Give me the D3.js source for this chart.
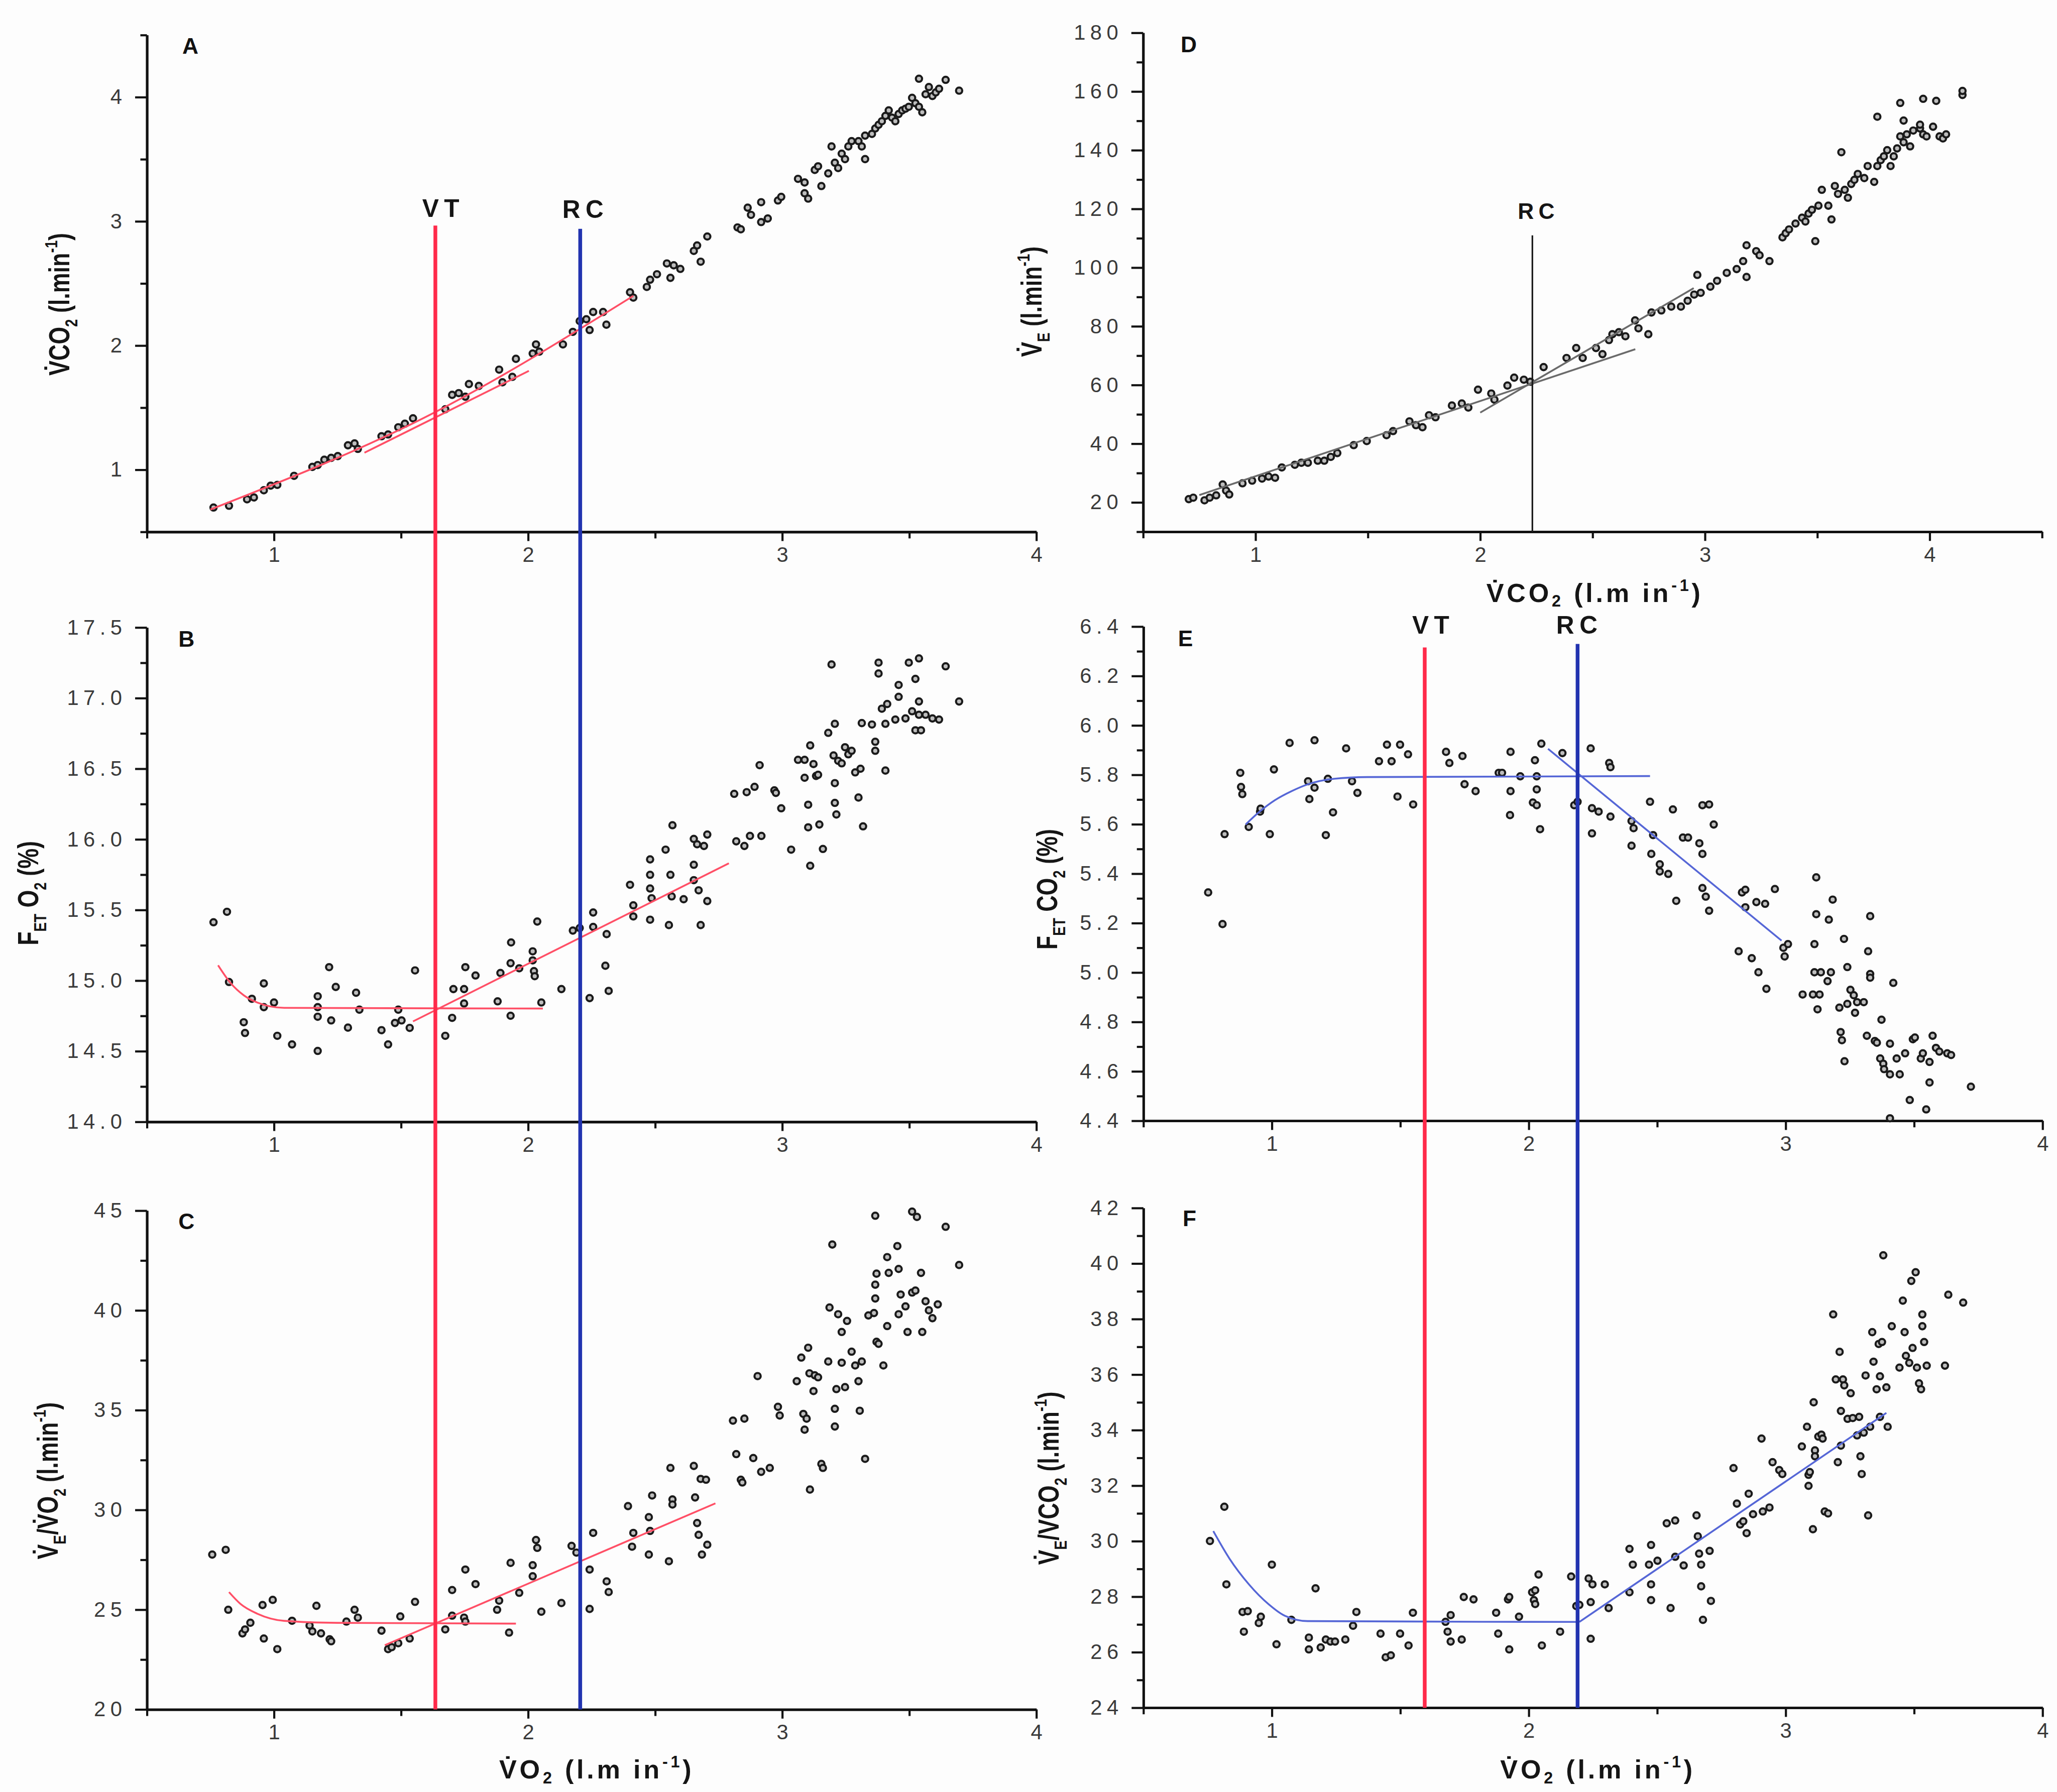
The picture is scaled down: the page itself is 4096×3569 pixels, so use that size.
<!DOCTYPE html>
<html><head><meta charset="utf-8">
<script src="https://cdn.jsdelivr.net/npm/d3@7"></script>
<style>html,body{margin:0;padding:0;background:#fdfdfd;}svg{display:block;}</style>
</head><body>
<script>
// ---------------- DATA ----------------
// Panel A: VO2 (x) vs VCO2 (y)
const dataA = [[0.762,0.696],[0.823,0.710],[0.894,0.762],[0.921,0.777],[0.960,0.835],[0.987,0.872],[1.013,0.878],[1.079,0.951],[1.151,1.023],[1.172,1.038],[1.198,1.081],[1.225,1.096],[1.251,1.110],[1.291,1.197],[1.317,1.212],[1.330,1.168],[1.423,1.270],[1.449,1.284],[1.489,1.342],[1.515,1.371],[1.547,1.414],[1.674,1.487],[1.701,1.603],[1.727,1.617],[1.753,1.588],[1.767,1.690],[1.806,1.675],[1.886,1.806],[1.899,1.704],[1.938,1.748],[1.952,1.893],[2.018,1.936],[2.031,2.009],[2.044,1.951],[2.137,2.009],[2.176,2.110],[2.203,2.197],[2.229,2.212],[2.242,2.125],[2.256,2.270],[2.295,2.270],[2.308,2.168],[2.401,2.429],[2.414,2.386],[2.467,2.472],[2.480,2.530],[2.507,2.574],[2.560,2.545],[2.546,2.661],[2.573,2.646],[2.599,2.617],[2.652,2.762],[2.665,2.806],[2.679,2.675],[2.705,2.878],[2.824,2.951],[2.837,2.936],[2.864,3.110],[2.877,3.052],[2.917,2.994],[2.943,3.023],[2.917,3.154],[2.983,3.168],[2.996,3.197],[3.062,3.342],[3.088,3.313],[3.088,3.226],[3.102,3.183],[3.128,3.414],[3.141,3.443],[3.154,3.284],[3.181,3.386],[3.194,3.603],[3.207,3.472],[3.220,3.429],[3.234,3.545],[3.247,3.501],[3.260,3.603],[3.273,3.646],[3.300,3.646],[3.313,3.603],[3.326,3.501],[3.326,3.690],[3.353,3.704],[3.366,3.748],[3.379,3.777],[3.392,3.806],[3.406,3.849],[3.419,3.893],[3.432,3.835],[3.445,3.806],[3.458,3.864],[3.472,3.893],[3.485,3.907],[3.498,3.922],[3.511,3.994],[3.524,3.951],[3.538,3.922],[3.551,3.878],[3.564,4.023],[3.577,4.081],[3.591,4.009],[3.604,4.038],[3.617,4.067],[3.643,4.139],[3.538,4.148],[3.696,4.052]];

// Panel B: VO2 vs FETO2 (%)
const dataB = [[0.762,15.413],[0.815,15.487],[0.823,14.990],[0.881,14.705],[0.886,14.629],[0.913,14.871],[0.960,14.980],[0.960,14.812],[1.000,14.845],[1.013,14.609],[1.071,14.548],[1.172,14.889],[1.172,14.812],[1.172,14.744],[1.172,14.502],[1.217,15.095],[1.225,14.718],[1.243,14.955],[1.291,14.667],[1.323,14.914],[1.336,14.794],[1.423,14.649],[1.449,14.548],[1.489,14.794],[1.476,14.700],[1.502,14.718],[1.534,14.665],[1.555,15.072],[1.674,14.609],[1.701,14.736],[1.706,14.940],[1.748,14.940],[1.748,14.838],[1.753,15.095],[1.793,15.036],[1.880,14.853],[1.891,15.054],[1.931,14.751],[1.933,15.270],[1.931,15.123],[1.965,15.087],[2.018,15.143],[2.018,15.207],[2.023,15.067],[2.026,15.031],[2.036,15.418],[2.052,14.845],[2.131,14.940],[2.176,15.354],[2.203,15.372],[2.242,14.876],[2.256,15.482],[2.256,15.380],[2.304,15.105],[2.317,14.927],[2.309,15.329],[2.401,15.678],[2.414,15.533],[2.414,15.454],[2.480,15.858],[2.480,15.749],[2.480,15.652],[2.480,15.431],[2.486,15.583],[2.541,15.927],[2.560,15.749],[2.565,15.596],[2.554,15.393],[2.568,16.100],[2.612,15.576],[2.652,16.003],[2.652,15.820],[2.652,15.711],[2.665,15.965],[2.671,15.639],[2.679,15.393],[2.692,15.953],[2.705,16.034],[2.705,15.563],[2.811,16.322],[2.819,15.986],[2.851,15.953],[2.860,16.334],[2.873,16.024],[2.891,16.372],[2.918,16.024],[2.911,16.525],[2.969,16.347],[2.975,16.329],[2.996,16.220],[3.035,15.927],[3.062,16.563],[3.088,16.563],[3.088,16.436],[3.102,16.245],[3.102,16.085],[3.110,16.665],[3.110,15.813],[3.123,16.533],[3.133,16.449],[3.141,16.457],[3.146,16.105],[3.160,15.932],[3.181,16.754],[3.194,17.238],[3.202,16.594],[3.207,16.818],[3.207,16.398],[3.213,16.176],[3.207,16.258],[3.220,16.556],[3.234,16.538],[3.247,16.652],[3.260,16.602],[3.273,16.627],[3.287,16.474],[3.300,16.296],[3.308,16.500],[3.313,16.823],[3.318,16.092],[3.353,16.813],[3.366,16.627],[3.366,16.691],[3.379,17.251],[3.379,17.174],[3.392,16.925],[3.406,16.818],[3.406,16.487],[3.413,16.958],[3.445,16.848],[3.458,17.009],[3.458,17.093],[3.485,16.856],[3.498,17.251],[3.511,16.907],[3.524,16.772],[3.524,17.136],[3.538,17.281],[3.538,16.976],[3.538,16.882],[3.546,16.772],[3.564,16.882],[3.591,16.856],[3.617,16.848],[3.643,17.225],[3.696,16.976]];

// Panel C: VO2 vs VE/VO2
const dataC = [[0.757,27.761],[0.810,27.998],[0.820,24.996],[0.876,23.811],[0.886,24.009],[0.907,24.345],[0.955,25.233],[0.960,23.555],[0.995,25.490],[1.013,23.022],[1.071,24.443],[1.167,25.194],[1.140,24.206],[1.151,23.910],[1.185,23.811],[1.219,23.515],[1.225,23.416],[1.285,24.404],[1.317,24.996],[1.330,24.601],[1.423,23.950],[1.449,23.022],[1.463,23.120],[1.489,23.318],[1.497,24.661],[1.534,23.555],[1.555,25.391],[1.674,24.009],[1.701,25.984],[1.701,24.700],[1.753,27.010],[1.748,24.601],[1.753,24.404],[1.793,26.280],[1.878,24.996],[1.886,25.450],[1.931,27.346],[1.925,23.851],[1.965,25.845],[2.018,27.228],[2.018,26.675],[2.031,28.492],[2.036,28.097],[2.052,24.898],[2.131,25.332],[2.171,28.195],[2.190,27.860],[2.242,27.010],[2.242,25.036],[2.256,28.847],[2.309,26.418],[2.317,25.885],[2.393,30.190],[2.414,28.847],[2.409,28.156],[2.475,29.637],[2.475,27.761],[2.480,28.946],[2.488,30.723],[2.554,27.425],[2.560,32.105],[2.568,30.525],[2.568,30.269],[2.652,32.204],[2.657,30.624],[2.665,29.341],[2.679,31.552],[2.671,28.748],[2.684,27.761],[2.700,31.513],[2.705,28.255],[2.806,34.475],[2.819,32.796],[2.837,31.513],[2.843,31.375],[2.851,34.574],[2.886,32.599],[2.903,36.706],[2.917,31.908],[2.951,32.105],[2.983,35.166],[2.990,34.732],[3.057,36.450],[3.075,37.634],[3.083,34.811],[3.088,34.021],[3.096,34.574],[3.102,38.128],[3.109,31.019],[3.107,36.844],[3.123,35.956],[3.128,36.746],[3.141,36.647],[3.154,32.303],[3.160,32.105],[3.181,37.437],[3.197,43.302],[3.186,40.142],[3.207,35.067],[3.207,34.179],[3.213,36.055],[3.220,39.807],[3.234,38.918],[3.234,37.378],[3.255,39.471],[3.247,36.153],[3.273,37.931],[3.287,37.239],[3.300,36.450],[3.305,34.969],[3.313,37.437],[3.326,32.559],[3.339,39.747],[3.366,44.743],[3.361,39.866],[3.371,41.840],[3.366,41.288],[3.366,40.596],[3.371,38.424],[3.379,38.325],[3.398,37.239],[3.413,42.670],[3.419,41.880],[3.413,39.214],[3.453,43.223],[3.458,42.077],[3.458,39.807],[3.485,40.201],[3.466,40.794],[3.493,38.918],[3.511,40.893],[3.524,40.991],[3.530,44.684],[3.546,41.880],[3.551,38.918],[3.564,40.458],[3.577,40.004],[3.591,39.609],[3.612,40.300],[3.643,44.190],[3.696,42.275],[3.511,44.950]];

// Panel D: VCO2 vs VE
const dataD = [[0.703,21.1],[0.723,21.6],[0.773,20.7],[0.796,21.6],[0.825,22.4],[0.869,24.0],[0.854,26.1],[0.883,22.7],[0.942,26.5],[0.985,27.4],[1.029,28.1],[1.058,28.8],[1.087,28.4],[1.117,31.9],[1.175,32.8],[1.204,33.5],[1.233,33.5],[1.277,34.2],[1.306,34.2],[1.335,35.5],[1.364,36.8],[1.437,39.5],[1.495,40.9],[1.583,42.9],[1.612,44.3],[1.685,47.6],[1.714,46.3],[1.743,45.6],[1.772,49.7],[1.801,49.0],[1.874,53.0],[1.918,53.7],[1.947,52.3],[1.990,58.4],[2.049,57.1],[2.063,55.0],[2.121,59.8],[2.151,62.5],[2.194,61.8],[2.223,61.1],[2.282,66.1],[2.384,69.2],[2.427,72.6],[2.456,69.2],[2.515,72.6],[2.544,70.5],[2.573,75.3],[2.588,77.3],[2.617,78.0],[2.646,76.6],[2.689,82.0],[2.704,79.3],[2.748,77.3],[2.762,84.7],[2.806,85.4],[2.850,86.7],[2.893,86.7],[2.923,88.7],[2.952,90.8],[2.966,97.5],[2.981,91.4],[3.024,93.5],[3.054,95.5],[3.097,98.2],[3.141,99.5],[3.170,102.2],[3.185,96.8],[3.185,107.6],[3.228,105.6],[3.243,104.2],[3.287,102.2],[3.345,110.3],[3.359,111.7],[3.374,113.0],[3.403,115.0],[3.432,117.0],[3.447,115.7],[3.461,118.4],[3.476,119.7],[3.491,109.0],[3.505,121.1],[3.520,126.5],[3.549,121.1],[3.563,116.4],[3.578,127.8],[3.592,125.1],[3.622,126.5],[3.636,123.8],[3.651,128.5],[3.665,129.9],[3.680,131.9],[3.709,130.5],[3.724,134.6],[3.753,129.2],[3.767,134.6],[3.782,136.6],[3.811,140.0],[3.796,137.9],[3.826,134.6],[3.840,137.9],[3.855,140.6],[3.869,144.7],[3.884,142.7],[3.898,145.4],[3.913,141.3],[3.927,146.7],[3.957,147.4],[3.971,145.4],[3.986,144.7],[4.015,148.0],[4.044,144.7],[4.059,144.0],[4.073,145.4],[3.767,151.4],[3.869,156.1],[3.884,150.1],[3.957,148.7],[3.971,157.5],[4.029,156.8],[4.146,158.8],[4.146,160.2],[3.607,139.3]];

// Panel E: VO2 vs FETCO2 (%)
const dataE = [[0.752,5.324],[0.808,5.196],[0.816,5.560],[0.877,5.808],[0.880,5.751],[0.885,5.722],[0.910,5.589],[0.954,5.651],[0.956,5.663],[0.992,5.560],[1.008,5.822],[1.069,5.929],[1.141,5.774],[1.146,5.702],[1.166,5.748],[1.166,5.940],[1.218,5.784],[1.210,5.556],[1.238,5.648],[1.289,5.907],[1.312,5.774],[1.333,5.727],[1.417,5.855],[1.466,5.855],[1.448,5.922],[1.499,5.922],[1.489,5.712],[1.530,5.883],[1.550,5.680],[1.678,5.893],[1.691,5.848],[1.742,5.876],[1.750,5.762],[1.793,5.734],[1.883,5.808],[1.896,5.808],[1.929,5.893],[1.929,5.734],[1.927,5.637],[1.967,5.794],[2.024,5.859],[2.031,5.741],[2.016,5.688],[2.031,5.677],[2.044,5.580],[2.049,5.926],[2.031,5.794],[2.131,5.888],[2.177,5.677],[2.190,5.691],[2.241,5.907],[2.246,5.665],[2.246,5.563],[2.272,5.651],[2.313,5.848],[2.318,5.831],[2.318,5.631],[2.400,5.613],[2.400,5.513],[2.408,5.584],[2.472,5.691],[2.484,5.556],[2.477,5.480],[2.510,5.409],[2.543,5.399],[2.510,5.438],[2.561,5.660],[2.574,5.290],[2.600,5.546],[2.620,5.546],[2.664,5.523],[2.676,5.480],[2.676,5.677],[2.676,5.342],[2.702,5.680],[2.689,5.307],[2.702,5.250],[2.720,5.599],[2.817,5.086],[2.830,5.324],[2.843,5.264],[2.843,5.335],[2.868,5.058],[2.886,5.285],[2.894,5.001],[2.920,5.278],[2.925,4.934],[2.958,5.338],[2.991,5.100],[2.996,5.065],[3.009,5.115],[3.066,4.911],[3.106,4.911],[3.112,5.115],[3.112,5.001],[3.119,5.385],[3.119,5.236],[3.124,4.851],[3.132,4.911],[3.137,5.001],[3.163,4.965],[3.176,5.001],[3.168,5.214],[3.183,5.295],[3.209,4.858],[3.214,4.759],[3.219,4.726],[3.227,5.136],[3.229,4.641],[3.240,5.022],[3.240,4.873],[3.252,4.930],[3.265,4.908],[3.270,4.837],[3.278,4.880],[3.304,4.880],[3.321,5.086],[3.329,4.994],[3.316,4.744],[3.329,5.228],[3.329,4.979],[3.347,4.723],[3.355,4.716],[3.368,4.652],[3.373,4.809],[3.380,4.631],[3.383,4.609],[3.406,4.588],[3.406,4.712],[3.419,4.958],[3.432,4.652],[3.444,4.588],[3.465,4.673],[3.483,4.484],[3.495,4.730],[3.503,4.737],[3.526,4.652],[3.534,4.673],[3.547,4.446],[3.560,4.638],[3.560,4.555],[3.572,4.744],[3.585,4.695],[3.598,4.680],[3.629,4.673],[3.644,4.666],[3.721,4.538],[3.406,4.410]];

// Panel F: VO2 vs VE/VCO2
const dataF = [[0.759,30.004],[0.815,31.239],[0.823,28.443],[0.886,27.449],[0.891,26.739],[0.906,27.477],[0.949,27.052],[0.957,27.279],[1.000,29.153],[1.018,26.285],[1.076,27.165],[1.144,26.526],[1.144,26.100],[1.170,28.301],[1.190,26.171],[1.210,26.455],[1.228,26.384],[1.246,26.384],[1.286,26.455],[1.316,26.952],[1.329,27.449],[1.423,26.668],[1.443,25.817],[1.463,25.888],[1.499,26.668],[1.532,26.242],[1.549,27.421],[1.676,27.094],[1.684,26.739],[1.696,27.336],[1.696,26.384],[1.739,26.455],[1.747,27.989],[1.785,27.903],[1.873,27.421],[1.881,26.668],[1.924,26.100],[1.919,27.903],[1.924,27.989],[1.962,27.279],[2.013,28.159],[2.020,27.875],[2.025,27.733],[2.025,28.230],[2.038,28.798],[2.051,26.242],[2.122,26.739],[2.165,28.727],[2.185,27.662],[2.197,27.705],[2.233,28.656],[2.248,28.443],[2.241,26.484],[2.241,27.804],[2.296,28.443],[2.311,27.591],[2.392,29.720],[2.392,28.159],[2.405,29.153],[2.468,29.153],[2.476,29.862],[2.476,28.443],[2.476,27.875],[2.501,29.295],[2.552,27.591],[2.537,30.643],[2.570,30.743],[2.570,29.437],[2.603,29.124],[2.653,30.927],[2.658,30.175],[2.663,29.550],[2.671,29.153],[2.671,28.372],[2.678,27.165],[2.704,29.649],[2.709,27.847],[2.797,32.631],[2.810,31.353],[2.823,30.601],[2.835,30.714],[2.848,30.288],[2.856,31.708],[2.873,30.970],[2.906,33.695],[2.911,31.069],[2.937,31.211],[2.949,32.844],[2.975,32.560],[2.987,32.418],[3.063,33.411],[3.083,34.121],[3.089,32.389],[3.089,31.992],[3.094,32.489],[3.106,30.430],[3.109,35.001],[3.114,33.269],[3.114,33.057],[3.127,33.766],[3.139,33.837],[3.144,33.695],[3.152,31.069],[3.165,30.998],[3.185,38.167],[3.195,35.825],[3.203,32.844],[3.210,36.818],[3.215,34.689],[3.215,33.440],[3.223,35.825],[3.228,35.612],[3.241,34.405],[3.253,35.328],[3.261,34.434],[3.278,33.809],[3.286,34.476],[3.291,33.057],[3.296,32.418],[3.304,33.908],[3.311,35.967],[3.321,30.927],[3.329,34.121],[3.337,37.528],[3.342,36.464],[3.354,35.470],[3.362,37.102],[3.367,35.938],[3.367,34.476],[3.375,37.173],[3.380,40.296],[3.392,35.541],[3.397,34.121],[3.413,37.741],[3.443,36.251],[3.456,38.664],[3.463,37.528],[3.468,36.676],[3.481,36.421],[3.489,39.374],[3.494,36.960],[3.506,39.686],[3.511,36.251],[3.519,35.683],[3.527,35.470],[3.532,38.167],[3.532,37.741],[3.539,37.173],[3.549,36.322],[3.620,36.322],[3.633,38.877],[3.691,38.593]];

// Fitted lines
const fitA1 = [[0.75,0.68],[1.637,1.467],[2.414,2.40]];
const fitA2 = [[1.356,1.137],[2.003,1.796]];
const fitB1 = [[0.78,15.108],[0.828,14.985],[0.881,14.896],[0.934,14.845],[1.04,14.807],[2.058,14.802]];
const fitB2 = [[1.547,14.711],[2.79,15.83]];
const fitC1 = [[0.823,25.88],[0.868,25.29],[0.934,24.80],[1.04,24.44],[1.251,24.34],[1.952,24.30]];
const fitC2 = [[1.436,23.22],[2.737,30.33]];
const fitD1 = [[0.75,22.5],[2.69,72.2]];
const fitD2 = [[2.0,50.6],[2.95,93.0]];
const fitE1 = [[0.898,5.599],[0.949,5.648],[1.013,5.698],[1.077,5.734],[1.141,5.762],[1.243,5.784],[1.371,5.791],[2.472,5.795]];
const fitE2 = [[2.075,5.905],[2.984,5.129]];
const fitF1 = [[0.772,30.36],[0.835,29.37],[0.911,28.44],[0.987,27.73],[1.051,27.31],[1.139,27.12],[2.197,27.09]];
const fitF2 = [[2.197,27.09],[3.392,34.62]];

// Thresholds (VO2, l/min)
const thrLeft = {VT:1.635, RC:2.205};
const thrRight = {VT:1.595, RC:2.19};
const rcD = 2.232, rcDTop = 111;   // RC in panel D (VCO2), top of line (VE)

// ---------------- DRAWING ----------------
const S = 4096/1568;
const s = v => v*S;
const FONT = '"Liberation Sans", Arial, Helvetica, sans-serif';
const W = 4096, H = 3569;
const svg = d3.select('body').append('svg').attr('width',W).attr('height',H);
svg.append('rect').attr('width',W).attr('height',H).attr('fill','#fdfdfd');

const panels = [
 {key:'A', data:dataA, xr:[112,790], xd:[0.5,4], yr:[405.5,26.7], yd:[0.5,4.5], xs:0.5, xlab:1, ys:0.5, ylab:1, fmt:d3.format('d'), letter:[139,41], fits:[fitA1,fitA2], fc:'#ff4f66'},
 {key:'B', data:dataB, xr:[112,790], xd:[0.5,4], yr:[855.3,478.4], yd:[14,17.5], xs:0.5, xlab:1, ys:0.25, ylab:0.5, fmt:d3.format('.1f'), letter:[136,493], fits:[fitB1,fitB2], fc:'#ff4f66'},
 {key:'C', data:dataC, xr:[112,790], xd:[0.5,4], yr:[1303.3,923], yd:[20,45], xs:0.5, xlab:1, ys:2.5, ylab:5, fmt:d3.format('d'), letter:[136,937], fits:[fitC1,fitC2], fc:'#ff4f66'},
 {key:'D', data:dataD, xr:[871.4,1556.6], xd:[0.5,4.5], yr:[405.4,25], yd:[10,180], xs:0.5, xlab:1, ys:10, ylab:20, fmt:d3.format('d'), letter:[900,40], fits:[fitD1,fitD2], fc:'#6a6a6a'},
 {key:'E', data:dataE, xr:[871.6,1557], xd:[0.5,4], yr:[854.5,477.7], yd:[4.4,6.4], xs:0.5, xlab:1, ys:0.1, ylab:0.2, fmt:d3.format('.1f'), letter:[898,492.6], fits:[fitE1,fitE2], fc:'#5566d6'},
 {key:'F', data:dataF, xr:[871.6,1557], xd:[0.5,4], yr:[1302,921], yd:[24,42], xs:0.5, xlab:1, ys:1, ylab:2, fmt:d3.format('d'), letter:[901.5,935], fits:[fitF1,fitF2], fc:'#5566d6'}
];
panels.forEach(p=>{
  p.x = d3.scaleLinear().domain(p.xd).range(p.xr.map(s));
  p.y = d3.scaleLinear().domain(p.yd).range(p.yr.map(s));
});
const P = Object.fromEntries(panels.map(p=>[p.key,p]));

function ticksFor(d, step){ const n = Math.round((d[1]-d[0])/step); return d3.range(n+1).map(i=>+(d[0]+i*step).toFixed(6)); }
const isLab = (v,l)=>Math.abs(v/l - Math.round(v/l))<1e-6;
const LS = s(3.6);

function drawAxes(p){
  const g = svg.append('g');
  const xt = ticksFor(p.xd,p.xs), yt = ticksFor(p.yd,p.ys);
  const xMaj = xt.filter(v=>isLab(v,p.xlab)), xMin = xt.filter(v=>!isLab(v,p.xlab));
  const yMaj = yt.filter(v=>isLab(v,p.ylab)), yMin = yt.filter(v=>!isLab(v,p.ylab));
  const y0 = p.y.range()[0], x0 = p.x.range()[0];
  g.append('g').attr('transform',`translate(0,${y0})`)
    .call(d3.axisBottom(p.x).tickValues(xMin).tickSize(s(5)).tickSizeOuter(0).tickFormat(''));
  const gx = g.append('g').attr('transform',`translate(0,${y0})`)
    .call(d3.axisBottom(p.x).tickValues(xMaj).tickSize(s(7)).tickSizeOuter(0).tickPadding(s(4.5)).tickFormat(d3.format('d')));
  g.append('g').attr('transform',`translate(${x0},0)`)
    .call(d3.axisLeft(p.y).tickValues(yMin).tickSize(s(5)).tickSizeOuter(0).tickFormat(''));
  const gy = g.append('g').attr('transform',`translate(${x0},0)`)
    .call(d3.axisLeft(p.y).tickValues(yMaj).tickSize(s(9)).tickSizeOuter(0).tickPadding(s(10)).tickFormat(p.fmt));
  g.selectAll('.domain').attr('stroke','#111').attr('stroke-width',4.8);
  g.selectAll('.tick line').attr('stroke','#111').attr('stroke-width',4.2);
  g.selectAll('.tick text').attr('font-family',FONT).attr('font-size',s(16)).attr('fill','#3a3a3a')
    .style('letter-spacing',LS+'px');
  gx.selectAll('.tick text').attr('dx',LS/2);
  gy.selectAll('.tick text').attr('dx',LS);
}

function drawPanel(p){
  drawAxes(p);
  const g = svg.append('g');
  g.selectAll('circle').data(p.data).join('circle')
    .attr('cx',d=>p.x(d[0])).attr('cy',d=>p.y(d[1])).attr('r',6.2)
    .attr('fill','#bdbdbd').attr('stroke','#1a1a1a').attr('stroke-width',4.2);
  const line = d3.line().x(d=>p.x(d[0])).y(d=>p.y(d[1])).curve(d3.curveMonotoneX);
  p.fits.forEach(f=>{
    svg.append('path').attr('d',line(f)).attr('fill','none').attr('stroke',p.fc).attr('stroke-width',3.6);
  });
  svg.append('text').attr('x',s(p.letter[0])).attr('y',s(p.letter[1]))
    .attr('font-family',FONT).attr('font-weight','bold').attr('font-size',s(17)).attr('fill','#111').text(p.key);
}
panels.forEach(drawPanel);

// RC line in panel D
svg.append('line').attr('x1',P.D.x(rcD)).attr('x2',P.D.x(rcD)).attr('y1',P.D.y(10)).attr('y2',P.D.y(rcDTop))
  .attr('stroke','#1a1a1a').attr('stroke-width',3.2);

// VT / RC lines across columns
const vLines = [
  {x:P.A.x(thrLeft.VT), top:172, bot:1303.3, c:'#ff2a4a'},
  {x:P.A.x(thrLeft.RC), top:174.5, bot:1303.3, c:'#2233b0'},
  {x:P.E.x(thrRight.VT), top:493.6, bot:1302, c:'#ff2a4a'},
  {x:P.E.x(thrRight.RC), top:491, bot:1302, c:'#2233b0'}
];
vLines.forEach(v=>svg.append('line').attr('x1',v.x).attr('x2',v.x).attr('y1',s(v.top)).attr('y2',s(v.bot))
  .attr('stroke',v.c).attr('stroke-width',7.5));

function label(txt,cx,by,fs,ls){
  svg.append('text').attr('x',cx).attr('y',s(by)).attr('text-anchor','middle').attr('dx',s(ls)/2)
    .attr('font-family',FONT).attr('font-weight','bold').attr('font-size',s(fs)).attr('fill','#151515')
    .style('letter-spacing',s(ls)+'px').text(txt);
}
label('VT', s(336), 165.5, 19, 4);
label('RC', s(444.4), 166, 19, 4);
label('VT', s(1090.6), 483, 19, 4);
label('RC', s(1202), 483, 19, 4);
label('RC', s(1171), 167, 17, 3.5);

// rich text helper
function rich(t, parts, fs, subShift){
  let off = 0;
  parts.forEach(([str,type])=>{
    const ts = t.append('tspan').text(str);
    let target = 0;
    if(type==='sub'){ target = subShift*fs; ts.attr('font-size',fs*0.62); }
    else if(type==='sup'){ target = -0.42*fs; ts.attr('font-size',fs*0.62); }
    ts.attr('dy', target-off);
    off = target;
  });
}
function yTitle(parts, cx, cy, fs, sx){
  const bx = s(cx) + 0.36*s(fs);
  const t = svg.append('text').attr('transform',`translate(${bx},${s(cy)}) rotate(-90) scale(${sx},1)`)
    .attr('text-anchor','middle').attr('font-family',FONT).attr('font-weight','bold')
    .attr('font-size',s(fs)).attr('fill','#151515');
  rich(t, parts, s(fs), 0.28);
}
function xTitle(parts, x, by, fs, ls){
  const t = svg.append('text').attr('x',s(x)).attr('y',s(by))
    .attr('font-family',FONT).attr('font-weight','bold').attr('font-size',s(fs)).attr('fill','#151515')
    .style('letter-spacing',s(ls)+'px');
  rich(t, parts, s(fs), 0.18);
}
const V = 'V\u0307';
yTitle([[V+'CO','n'],['2','sub'],[' (l.min','n'],['-1','sup'],[')','n']], 45, 232, 22, 0.78);
yTitle([['F','n'],['ET','sub'],[' O','n'],['2','sub'],[' (%)','n']], 21, 681, 22, 0.78);
yTitle([[V,'n'],['E','sub'],['/'+V+'O','n'],['2','sub'],[' (l.min','n'],['-1','sup'],[')','n']], 36, 1129, 22, 0.78);
yTitle([[V,'n'],['E','sub'],[' (l.min','n'],['-1','sup'],[')','n']], 786, 230, 22, 0.78);
yTitle([['F','n'],['ET','sub'],[' CO','n'],['2','sub'],[' (%)','n']], 798, 678, 22, 0.78);
yTitle([[V,'n'],['E','sub'],['/VCO','n'],['2','sub'],[' (l.min','n'],['-1','sup'],[')','n']], 799, 1127, 22, 0.78);

xTitle([[V+'CO','n'],['2','sub'],[' (l.m in','n'],['-1','sup'],[')','n']], 1133, 459, 20, 2.2);
xTitle([[V+'O','n'],['2','sub'],[' (l.m in','n'],['-1','sup'],[')','n']], 380.5, 1356, 20, 2.2);
xTitle([[V+'O','n'],['2','sub'],[' (l.m in','n'],['-1','sup'],[')','n']], 1143.6, 1356, 20, 2.2);
</script>
</body></html>
